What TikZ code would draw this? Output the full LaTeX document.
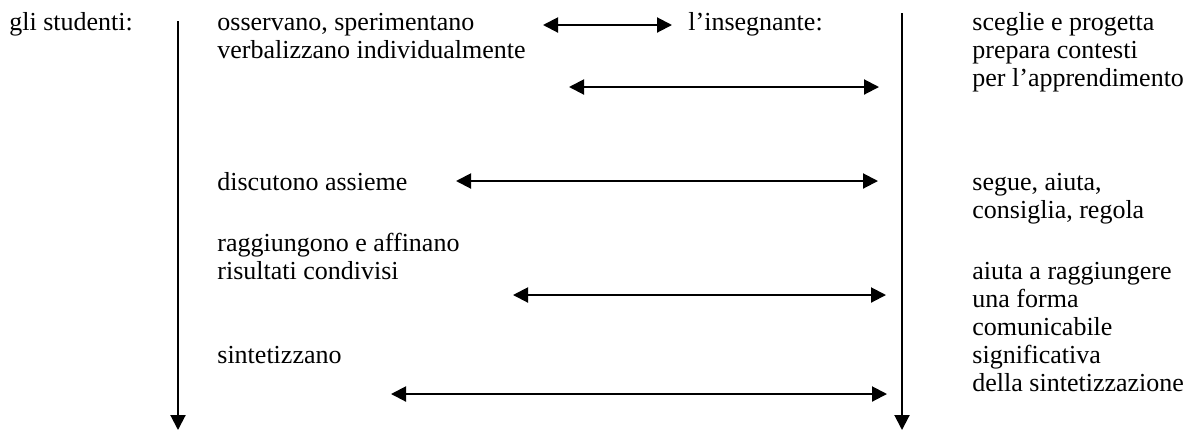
\documentclass[tikz,border=0pt]{standalone}
\usepackage{fontspec}
\setmainfont{Liberation Serif}
\usetikzlibrary{arrows.meta}
\begin{document}
\begin{tikzpicture}[x=0.5pt,y=-0.5pt,
  txt/.style={anchor=base west, inner sep=0pt, font=\fontsize{13}{15}\selectfont},
  flow/.style={line width=1pt, -{Triangle[length=7.5pt,width=7.5pt]}},
  link/.style={line width=1pt, {Triangle[length=7.5pt,width=7.5pt]}-{Triangle[length=7.5pt,width=7.5pt]}}]
\useasboundingbox (0,0) rectangle (1192,430);

% time axes of the two actors
\coordinate (sTop) at (178,21);
\coordinate (sEnd) at (178,430);
\coordinate (iTop) at (902,13);
\coordinate (iEnd) at (902,430);
\draw[flow] (sTop) -- (sEnd);
\draw[flow] (iTop) -- (iEnd);

% headings
\node[txt] (stud) at (9,30) {gli studenti:};
\node[txt] (ins) at (688,30) {l’insegnante:};

% students' column
\node[txt] (s1a) at (217,30) {osservano, sperimentano};
\node[txt] (s1b) at (217,58) {verbalizzano individualmente};
\node[txt] (s2) at (217,190) {discutono assieme};
\node[txt] (s3a) at (217,251) {raggiungono e affinano};
\node[txt] (s3b) at (217,279) {risultati condivisi};
\node[txt] (s4) at (217,363) {sintetizzano};

% teacher's column
\node[txt] (t1a) at (972,30) {sceglie e progetta};
\node[txt] (t1b) at (972,58) {prepara contesti};
\node[txt] (t1c) at (972,86) {per l’apprendimento};
\node[txt] (t2a) at (972,190) {segue, aiuta,};
\node[txt] (t2b) at (972,218) {consiglia, regola};
\node[txt] (t3a) at (972,279) {aiuta a raggiungere};
\node[txt] (t3b) at (972,307) {una forma};
\node[txt] (t3c) at (972,335) {comunicabile};
\node[txt] (t3d) at (972,363) {significativa};
\node[txt] (t3e) at (972,391) {della sintetizzazione};

% exchanges between students and teacher
\coordinate (a1l) at (543,25);  \coordinate (a1r) at (672,25);
\coordinate (a2l) at (569,87);  \coordinate (a2r) at (879,87);
\coordinate (a3l) at (456,181); \coordinate (a3r) at (878,181);
\coordinate (a4l) at (513,295); \coordinate (a4r) at (886,295);
\coordinate (a5l) at (391,394); \coordinate (a5r) at (887,394);
\draw[link] (a1l) -- (a1r);
\draw[link] (a2l) -- (a2r);
\draw[link] (a3l) -- (a3r);
\draw[link] (a4l) -- (a4r);
\draw[link] (a5l) -- (a5r);
\end{tikzpicture}
\end{document}
